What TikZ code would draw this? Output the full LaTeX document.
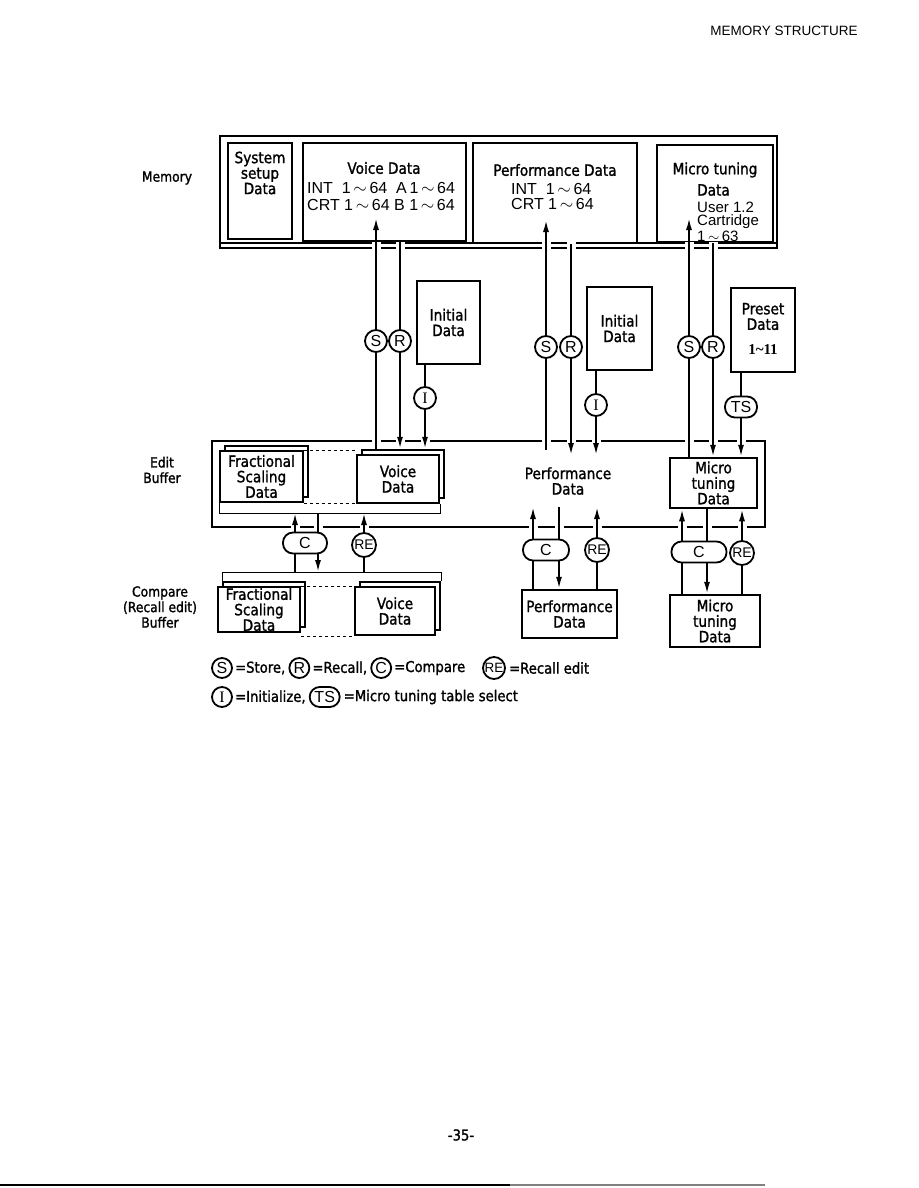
\documentclass[tikz,border=0pt]{standalone}
\usepackage{fontspec}
\setmainfont{Liberation Sans}
\newfontfamily\dotf{DejaVu Sans}[FakeStretch=0.88, FakeBold=1.3]
\newfontfamily\serf{Liberation Serif}
\usetikzlibrary{arrows.meta,positioning}
\newcommand{\wv}{\,$\sim$\,}
% stacked box: back sheet offset up-right, front sheet on top
\newcommand{\stk}[5]{%
  \node[box, minimum width=#3, minimum height=#4, xshift=5pt, yshift=5pt] (#1b) at (#2) {};
  \node[box, fill=white, minimum width=#3, minimum height=#4] (#1) at (#2) {#5};}

\begin{document}
\begin{tikzpicture}[x=1pt, y=-1pt, >={Latex[length=12pt,width=6pt]},
  box/.style={draw, line width=2.5pt, inner sep=1pt, align=center,
    font=\dotf\fontsize{15.5}{15.5}\selectfont},
  frm/.style={line width=2.6pt},
  ln/.style={line width=1.8pt},
  sr/.style={draw, circle, line width=1.8pt, minimum size=22pt, inner sep=0pt,
    fill=white, font=\fontsize{16}{16}\selectfont},
  cov/.style={draw, rounded corners=10pt, line width=1.8pt, minimum height=21pt,
    inner sep=0pt, fill=white, font=\fontsize{16}{16}\selectfont},
  dl/.style={font=\dotf\fontsize{15.5}{15.5}\selectfont, align=center, inner sep=0pt},
  hl/.style={font=\fontsize{16}{16}\selectfont, anchor=west, inner sep=0pt},
  lbl/.style={font=\dotf\fontsize{14}{15.5}\selectfont, align=center, inner sep=0pt},
  lgt/.style={font=\dotf\fontsize{15}{15}\selectfont, inner sep=0pt}]
\fill[white] (0,0) rectangle (918,1188);
\useasboundingbox (0,0) rectangle (918,1188);

% page header and footer
\node[font=\fontsize{13.5}{14}\selectfont] (hdr) at (784,31) {MEMORY STRUCTURE};
\node[lgt] (pg) at (461,1135) {-35-};
\draw[line width=2pt] (0,1185) -- (510,1185);
\draw[line width=2pt, gray] (510,1185) -- (765,1185);

% row labels
\node[lbl] (lMem) at (167,178) {Memory};
\node[lbl] (lEdit) at (162,470) {Edit\\Buffer};
\node[lbl] (lCmp) at (160,607) {Compare\\(Recall edit)\\Buffer};

% memory
\draw[frm] (220,136) rectangle (777,248);
\draw[ln] (220,243) -- (777,243);
\node[box, minimum width=64, minimum height=96] (sys) at (260,191) {};
\node[dl] at (260,173) {System\\setup\\Data};
\node[box, minimum width=163, minimum height=98] (memV) at (384.5,192) {};
\node[dl] at (384,168) {Voice Data};
\node[hl] at (307,188) {INT \ 1\wv64 \ A\,1\wv64};
\node[hl] at (307,205) {CRT 1\wv64 B 1\wv64};
\node[box, minimum width=164, minimum height=100] (memP) at (555,193) {};
\node[dl] at (555,170) {Performance Data};
\node[hl] at (511,189) {INT \ 1\wv64};
\node[hl] at (511,204) {CRT 1\wv64};
\node[box, minimum width=116, minimum height=97] (memM) at (715,193.5) {};
\node[dl] at (715,170) {Micro tuning};
\node[dl, anchor=west] at (697,190) {Data};
\node[hl, font=\fontsize{15}{15}\selectfont] at (697,207) {User 1.2};
\node[hl, font=\fontsize{15}{15}\selectfont] at (697,222) {Cartridge};
\node[hl, font=\fontsize{15}{15}\selectfont] at (697,236) {1\wv63};

% sources between memory and edit buffer
\node[box, minimum width=63, minimum height=83] (initV) at (448.5,322.5) {Initial\\Data};
\node[box, minimum width=65, minimum height=83] (initP) at (619.5,328.5) {Initial\\Data};
\node[box, minimum width=64, minimum height=84] (preset) at (763,330) {};
\node[dl] at (763,316.5) {Preset\\Data};
\node[font=\serf\bfseries\fontsize{15}{15}\selectfont, inner sep=0pt] at (763,350) {1\textasciitilde11};

\node[sr] (sV) at (376,341) {S};
\node[sr] (rV) at (400,341) {R};
\node[sr, font=\serf\fontsize{16}{16}\selectfont] (iV) at (425,398) {I};
\node[sr] (sP) at (546,347) {S};
\node[sr] (rP) at (571,347) {R};
\node[sr, font=\serf\fontsize{16}{16}\selectfont] (iP) at (596,405) {I};
\node[sr] (sM) at (689,347) {S};
\node[sr] (rM) at (713,347) {R};
\node[cov, minimum width=32] (ts) at (741,407) {TS};

% edit buffer
\draw[frm] (212,441) rectangle (765,527);
\stk{fracE}{261.5,476.5}{83}{51}{Fractional\\Scaling\\Data}
\stk{voiceE}{398,479}{82}{48}{Voice\\Data}
\draw[dashed, thin] (fracE.north east) -- (fracE.north east -| voiceE.west);
\draw[dashed, thin] (fracE.south east) -- (fracE.south east -| voiceE.west);
\coordinate (ebr) at (330,513);
\draw[thin] (fracE.south west) -- (fracE.south west |- ebr) -- (voiceE.south east |- ebr) -- (voiceE.south east);
\node[dl] (perfE) at (568,481) {Performance\\Data};
\coordinate (pTop) at (568,455);
\coordinate (pBot) at (568,507);
\node[box, minimum width=87, minimum height=50] (microE) at (713.5,483) {Micro\\tuning\\Data};

% compare buffer
\coordinate (cbr) at (330,572);
\stk{fracC}{259,609.5}{82}{45}{Fractional\\Scaling\\Data}
\stk{voiceC}{395,611}{80}{48}{Voice\\Data}
\draw[thin] (fracCb.north west) -- (fracCb.north west |- cbr) -- (voiceCb.north east |- cbr) -- (voiceCb.north east);
\draw[dashed, thin] (fracC.north east) -- (fracC.north east -| voiceC.west);
\draw[dashed, thin] (fracC.east |- voiceC.south) -- (voiceC.south west);
\node[box, minimum width=95, minimum height=48] (perfC) at (569.5,614) {Performance\\Data};
\node[box, minimum width=90, minimum height=52] (microC) at (715,621) {Micro\\tuning\\Data};

\node[cov, minimum width=44] (cV) at (305,543) {C};
\node[sr, minimum size=24, font=\fontsize{14}{14}\selectfont] (reV) at (364,545) {RE};
\node[cov, minimum width=46] (cP) at (546,550) {C};
\node[sr, minimum size=24, font=\fontsize{14}{14}\selectfont] (reP) at (597,550) {RE};
\node[cov, minimum width=55] (cM) at (699,552) {C};
\node[sr, minimum size=24, font=\fontsize{14}{14}\selectfont] (reM) at (742,553) {RE};
\coordinate (cVl) at (295,543); \coordinate (cVr) at (318,543);
\coordinate (cPl) at (533,550); \coordinate (cPr) at (559,550);
\coordinate (cMl) at (682,552); \coordinate (cMr) at (707,552);

% breaks in the frames where lines cross
\foreach \x in {376,400,546,571,689,713}
  \fill[white] (\x-4.5,242.3) rectangle (\x+4.5,250);
\foreach \x in {376,400,425,546,571,596,689,713,741}
  \fill[white] (\x-4.5,438) rectangle (\x+4.5,444.5);
\foreach \x in {295,318,364,533,559,597,682,707,742}
  \fill[white] (\x-4.5,523.5) rectangle (\x+4.5,530.5);

% store / recall / initialize
\draw[ln] (sV) -- (sV |- voiceEb.north);
\draw[ln,->] (sV) -- (sV |- 0,218);
\draw[ln] (rV |- memV.south) -- (rV);
\draw[ln,->] (rV) -- (rV |- voiceEb.north);
\draw[ln] (iV |- initV.south) -- (iV);
\draw[ln,->] (iV) -- (iV |- voiceEb.north);
\draw[ln] (sP) -- (sP |- 0,450);
\draw[ln,->] (sP) -- (sP |- 0,220);
\draw[ln] (rP |- memP.south) -- (rP);
\draw[ln,->] (rP) -- (rP |- pTop);
\draw[ln] (iP |- initP.south) -- (iP);
\draw[ln,->] (iP) -- (iP |- pTop);
\draw[ln] (sM) -- (sM |- microE.north);
\draw[ln,->] (sM) -- (sM |- 0,218);
\draw[ln] (rM |- memM.south) -- (rM);
\draw[ln,->] (rM) -- (rM |- microE.north);
\draw[ln] (ts |- preset.south) -- (ts);
\draw[ln,->] (ts) -- (ts |- microE.north);

% compare / recall edit
\draw[ln,->] (cVl |- cV.north) -- (cVl |- ebr);
\draw[ln] (cVl |- cV.south) -- (cVl |- cbr);
\draw[ln] (cVr |- ebr) -- (cVr |- cV.north);
\draw[ln,->] (cVr |- cV.south) -- (cVr |- cbr);
\draw[ln,->] (reV) -- (reV |- ebr);
\draw[ln] (reV) -- (reV |- cbr);
\draw[ln,->] (cPl |- cP.north) -- (cPl |- pBot);
\draw[ln] (cPl |- cP.south) -- (cPl |- perfC.north);
\draw[ln] (cPr |- pBot) -- (cPr |- cP.north);
\draw[ln,->] (cPr |- cP.south) -- (cPr |- perfC.north);
\draw[ln,->] (reP) -- (reP |- pBot);
\draw[ln] (reP) -- (reP |- perfC.north);
\draw[ln,->] (cMl |- cM.north) -- (cMl |- microE.south);
\draw[ln] (cMl |- cM.south) -- (cMl |- microC.north);
\draw[ln] (cMr |- microE.south) -- (cMr |- cM.north);
\draw[ln,->] (cMr |- cM.south) -- (cMr |- microC.north);
\draw[ln,->] (reM) -- (reM |- microE.south);
\draw[ln] (reM) -- (reM |- microC.north);

% legend
\node[sr, minimum size=20] (kS) at (222,668) {S};
\node[lgt, right=2pt of kS] (tS) {=Store,};
\node[sr, minimum size=20, right=3pt of tS] (kR) {R};
\node[lgt, right=2pt of kR] (tR) {=Recall,};
\node[sr, minimum size=20, right=3pt of tR] (kC) {C};
\node[lgt, right=2pt of kC] (tC) {=Compare};
\node[sr, minimum size=22, font=\fontsize{13.5}{13.5}\selectfont] (kRE) at (494,668) {RE};
\node[lgt, right=3pt of kRE] (tRE) {=Recall edit};
\node[sr, minimum size=20, font=\serf\fontsize{16}{16}\selectfont] (kI) at (222,697) {I};
\node[lgt, right=2pt of kI] (tI) {=Initialize,};
\node[cov, minimum width=30, minimum height=20, right=3pt of tI] (kTS) {TS};
\node[lgt, right=3pt of kTS] (tTS) {=Micro tuning table select};
\end{tikzpicture}
\end{document}
